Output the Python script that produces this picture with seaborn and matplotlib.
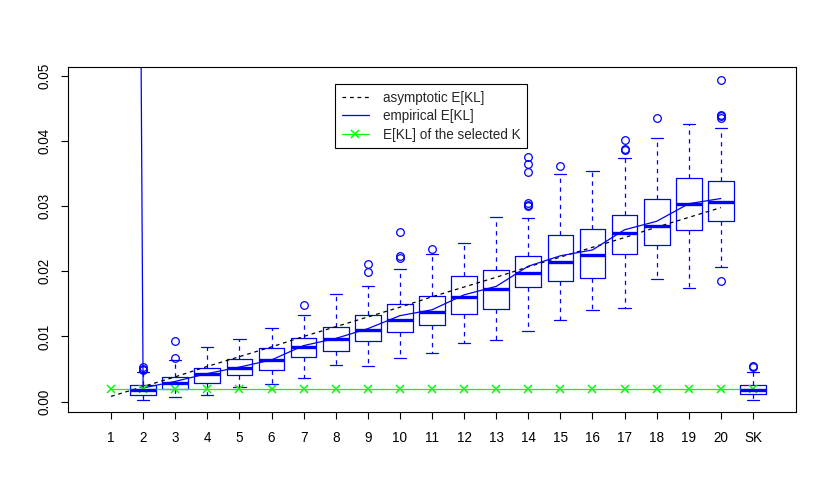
import numpy as np
import pandas as pd
import matplotlib
matplotlib.use("Agg")
import matplotlib.pyplot as plt
import seaborn as sns

# -----------------------------------------------------------------------------
# Data
# -----------------------------------------------------------------------------

# Model sizes K, plus the selected K ("SK") as the last box
k_values = list(range(1, 21))
tick_labels = [str(k) for k in k_values] + ["SK"]

# Box summaries for K = 2..20 and SK
box_labels = [str(k) for k in range(2, 21)] + ["SK"]
q1 = [0.00107, 0.00200, 0.00281, 0.00403, 0.00486, 0.00686, 0.00778, 0.00936, 0.01069, 0.01176,
      0.01339, 0.01426, 0.01753, 0.01851, 0.01897, 0.02270, 0.02413, 0.02633, 0.02771, 0.00112]
med = [0.00173, 0.00287, 0.00419, 0.00517, 0.00633, 0.00839, 0.00966, 0.01094, 0.01258, 0.01376,
       0.01610, 0.01722, 0.01979, 0.02143, 0.02259, 0.02587, 0.02695, 0.03037, 0.03063, 0.00179]
q3 = [0.00250, 0.00379, 0.00517, 0.00655, 0.00824, 0.00977, 0.01150, 0.01330, 0.01503, 0.01621,
      0.01922, 0.02020, 0.02239, 0.02557, 0.02649, 0.02863, 0.03109, 0.03431, 0.03394, 0.00256]
whis_lo = [0.00026, 0.00066, 0.00103, 0.00225, 0.00271, 0.00363, 0.00563, 0.00547, 0.00670, 0.00752,
           0.00900, 0.00946, 0.01078, 0.01258, 0.01406, 0.01431, 0.01882, 0.01738, 0.02071, 0.00026]
whis_hi = [0.00450, 0.00640, 0.00833, 0.00966, 0.01135, 0.01324, 0.01656, 0.01768, 0.02035, 0.02265,
           0.02443, 0.02837, 0.02817, 0.03492, 0.03548, 0.03747, 0.04054, 0.04268, 0.04202, 0.00455]
outliers = [
    [0.0048, 0.0050, 0.0053],
    [0.0067, 0.0093],
    [], [], [],
    [0.0149],
    [],
    [0.0199, 0.0212],
    [0.0220, 0.0224, 0.0261],
    [0.0234],
    [], [],
    [0.0300, 0.0302, 0.0305, 0.0353, 0.0365, 0.0376],
    [0.0362],
    [],
    [0.0386, 0.0388, 0.0402],
    [0.0435],
    [],
    [0.0185, 0.0436, 0.0439, 0.0441, 0.0494],
    [0.0053, 0.0055],
]

# Lines over K = 1..20
asymptotic = [0.0008, 0.0023, 0.0038, 0.0054, 0.0069, 0.0084, 0.0100, 0.0115, 0.0130, 0.0145,
              0.0161, 0.0176, 0.0191, 0.0207, 0.0222, 0.0237, 0.0252, 0.0268, 0.0283, 0.0298]
empirical = [0.80, 0.0021, 0.0031, 0.0043, 0.0053, 0.0064, 0.0086, 0.0097, 0.0112, 0.0132,
             0.0141, 0.0164, 0.0177, 0.0208, 0.0224, 0.0233, 0.0264, 0.0277, 0.0304, 0.0312]
selected = [0.0019] * 21

# -----------------------------------------------------------------------------
# Plotting attributes
# -----------------------------------------------------------------------------

sns.set_theme(style="white")
plt.rcParams["font.family"] = ["Liberation Sans", "DejaVu Sans"]
blue = "#0000FF"
green = "#00FF00"
lw = 0.9
fs = 9.75

fig = plt.figure(figsize=(8.3, 4.98), dpi=100)
ax = fig.add_axes([68 / 830, 1 - 412 / 498, (796 - 68) / 830, (412 - 67) / 498])

# Boxes from summary statistics
stats = []
for i in range(len(box_labels)):
    stats.append(dict(q1=q1[i], med=med[i], q3=q3[i], whislo=whis_lo[i],
                      whishi=whis_hi[i], fliers=outliers[i], label=box_labels[i]))
positions = list(range(2, 22))
ax.bxp(stats, positions=positions, widths=0.8, capwidths=0.38, showfliers=True,
       boxprops=dict(color=blue, lw=lw),
       medianprops=dict(color=blue, lw=2.4, solid_capstyle="butt"),
       whiskerprops=dict(color=blue, lw=lw, linestyle=(0, (3.5, 3.5))),
       capprops=dict(color=blue, lw=lw),
       flierprops=dict(marker="o", markerfacecolor="none", markeredgecolor=blue,
                       markersize=5.5, markeredgewidth=0.9))

df = pd.DataFrame({"K": k_values, "asymptotic": asymptotic, "empirical": empirical})
sns.lineplot(x="K", y="asymptotic", data=df, ax=ax, color="black", lw=lw,
             linestyle=(0, (3, 3)), label="asymptotic E[KL]")
sns.lineplot(x="K", y="empirical", data=df, ax=ax, color=blue, lw=lw,
             label="empirical E[KL]")
sns.lineplot(x=list(range(1, 22)), y=selected, ax=ax, color=green, lw=lw,
             marker="x", markersize=6, markeredgewidth=1.1, markeredgecolor=green,
             label="E[KL] of the selected K")

ax.set(xlim=(-0.34, 22.34), ylim=(-0.0016, 0.0514), xlabel=None, ylabel=None)
ax.set_xticks(range(1, 22))
ax.set_xticklabels(tick_labels)
ax.set_yticks([0.0, 0.01, 0.02, 0.03, 0.04, 0.05])
ax.set_yticklabels(["0.00", "0.01", "0.02", "0.03", "0.04", "0.05"], rotation=90, va="center")
ax.tick_params(axis="both", direction="out", length=5, width=0.8, color="black",
               labelsize=fs, labelcolor="black", bottom=True, left=True)
ax.tick_params(axis="x", pad=9)
ax.tick_params(axis="y", pad=7)
for s in ax.spines.values():
    s.set_color("black")
    s.set_linewidth(0.8)

leg = ax.legend(loc="upper left", bbox_to_anchor=(0.367, 0.951), borderaxespad=0,
                fontsize=fs, frameon=True, fancybox=False, edgecolor="black", framealpha=1,
                handlelength=2.0, handletextpad=1.0, labelspacing=0.33, borderpad=0.5)
leg.get_frame().set_linewidth(0.8)

plt.savefig("out.png", dpi=100)
